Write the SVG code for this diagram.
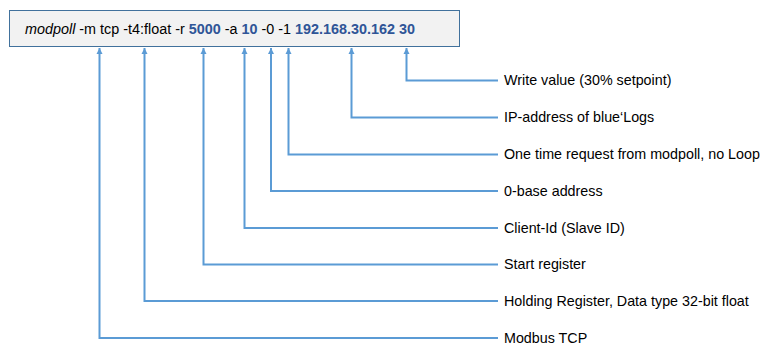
<svg xmlns="http://www.w3.org/2000/svg" width="774" height="345" viewBox="0 0 774 345">
  <style>
    .cmd { font-family: "Liberation Sans", Arial, sans-serif; font-size: 14px; fill: #000; }
    .val { font-weight: bold; fill: #2F5597; }
    .lbl { font-family: "Liberation Sans", Arial, sans-serif; font-size: 14.3px; fill: #000; }
  </style>
  <defs>
    <marker id="up" viewBox="0 0 8 8" refX="4" refY="0" markerWidth="7" markerHeight="6" markerUnits="userSpaceOnUse" orient="0">
      <path d="M0,8 L4,0 L8,8 Z" fill="#5B9BD5"/>
    </marker>
  </defs>

  <!-- command line box -->
  <g id="command">
    <rect x="9.5" y="10.5" width="450" height="36" fill="#F2F2F2" stroke="#41719C" stroke-width="1"/>
    <text class="cmd" x="25" y="34" textLength="390" lengthAdjust="spacingAndGlyphs"><tspan font-style="italic">modpoll</tspan> -m tcp -t4:float -r <tspan class="val">5000</tspan> -a <tspan class="val">10</tspan> -0 -1 <tspan class="val">192.168.30.162</tspan> <tspan class="val">30</tspan></text>
  </g>

  <!-- connectors from each argument to its description -->
  <g id="connectors" fill="none" stroke="#5B9BD5" stroke-width="2">
    <path d="M406.5,48 V80.5 H498" marker-start="url(#up)"/>
    <path d="M351.5,48 V117.5 H498" marker-start="url(#up)"/>
    <path d="M288.5,48 V154.5 H498" marker-start="url(#up)"/>
    <path d="M271,48 V191 H498" marker-start="url(#up)"/>
    <path d="M244.5,48 V228 H498" marker-start="url(#up)"/>
    <path d="M203.5,48 V264.5 H498" marker-start="url(#up)"/>
    <path d="M144.5,48 V301 H498" marker-start="url(#up)"/>
    <path d="M99.5,48 V338 H498" marker-start="url(#up)"/>
  </g>

  <g id="label-write"><text class="lbl" x="504" y="85">Write value (30% setpoint)</text></g>
  <g id="label-ip"><text class="lbl" x="504" y="122">IP-address of blue‘Logs</text></g>
  <g id="label-once"><text class="lbl" x="504" y="159">One time request from modpoll, no Loop</text></g>
  <g id="label-base"><text class="lbl" x="504" y="196">0-base address</text></g>
  <g id="label-client"><text class="lbl" x="504" y="233">Client-Id (Slave ID)</text></g>
  <g id="label-start"><text class="lbl" x="504" y="269">Start register</text></g>
  <g id="label-holding"><text class="lbl" x="504" y="306">Holding Register, Data type 32-bit float</text></g>
  <g id="label-tcp"><text class="lbl" x="504" y="343">Modbus TCP</text></g>
</svg>
